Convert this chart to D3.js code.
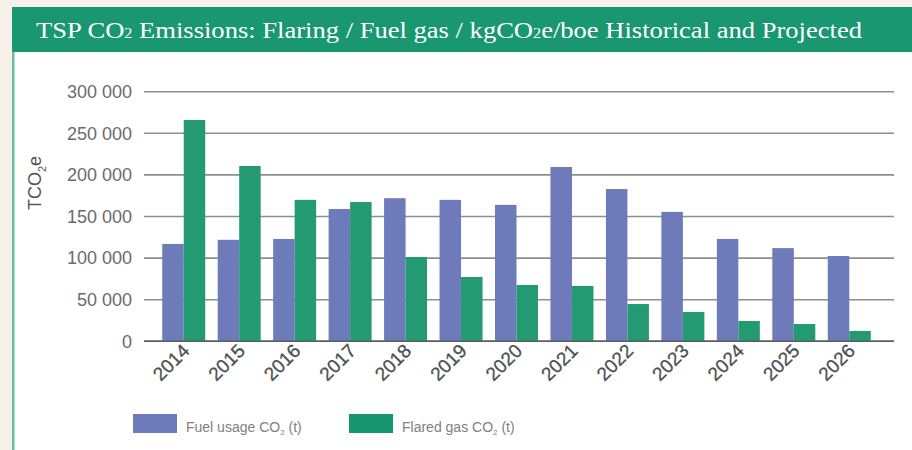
<!DOCTYPE html>
<html>
<head>
<meta charset="utf-8">
<script src="https://cdn.jsdelivr.net/npm/d3@7"></script>
<style>
  html, body { margin: 0; padding: 0; background: #f8f0ea; }
  svg { display: block; }
</style>
</head>
<body>
<div id="chart"></div>
<script>
// data
var years = ["2014","2015","2016","2017","2018","2019","2020","2021","2022","2023","2024","2025","2026"];
var fuelUsage = [117000,122000,123000,159000,172000,170000,164000,209500,183000,155500,123000,112000,102500];
var flaredGas = [266000,210700,170000,167400,101300,77300,67700,66500,44800,35200,24400,20800,12400];
var yTicks = [0,50000,100000,150000,200000,250000,300000];
var seriesNames = ["Fuel usage CO", "Flared gas CO"];
var colores = ["#6d7bbb", "#249a72"];

var W = 912, H = 450;
var svg = d3.select("#chart").append("svg")
  .attr("width", W).attr("height", H);

// panel + title bar
svg.append("rect").attr("x", 12).attr("y", 7).attr("width", W - 12).attr("height", H - 7).attr("fill", "#fff");
svg.append("rect").attr("x", 12).attr("y", 52).attr("width", 2.5).attr("height", H - 52).attr("fill", "#6cbf9c");
svg.append("rect").attr("x", 12).attr("y", 7).attr("width", W - 12).attr("height", 45).attr("fill", "#189770");
var tt = svg.append("text")
  .attr("x", 36).attr("y", 38)
  .attr("fill", "#fff")
  .attr("font-family", "'Liberation Serif', 'DejaVu Serif', serif")
  .attr("font-size", 23)
  .attr("textLength", 826).attr("lengthAdjust", "spacingAndGlyphs");
// subscripts done by hand so they sit on the baseline, small
var tituloPartes = [["TSP CO",0],["2",1],[" Emissions: Flaring / Fuel gas / kgCO",0],["2",1],["e/boe Historical and Projected",0]];
tituloPartes.forEach(function(p){
  var s = tt.append("tspan").text(p[0]);
  if (p[1]) s.attr("font-size", 14);
});

// scales
var x = d3.scaleBand().domain(years).range([156, 877]).paddingInner(0.225).paddingOuter(0.1125);
var xs = d3.scaleBand().domain([0, 1]).range([0, x.bandwidth()]);
var y = d3.scaleLinear().domain([0, 300000]).range([341.3, 91.7]);
var fmt = d3.formatLocale({decimal: ".", thousands: " ", grouping: [3], currency: ["", ""]}).format(",");

// gridlines
var grid = svg.append("g");
grid.selectAll("line").data(yTicks).enter().append("line")
  .attr("x1", 144).attr("x2", 894)
  .attr("y1", function(d){ return y(d); })
  .attr("y2", function(d){ return y(d); })
  .attr("stroke", function(d){ return d === 0 ? "#5a5f5e" : "#8c8f8e"; })
  .attr("stroke-width", 1.6);

// y labels
var yAxis = d3.axisLeft(y).tickValues(yTicks).tickFormat(fmt).tickSize(0).tickPadding(0);
var gy = svg.append("g").attr("transform", "translate(132,0)").call(yAxis);
gy.select(".domain").remove();
gy.selectAll("text")
  .attr("font-family", "'Liberation Sans', Arial, sans-serif")
  .attr("font-size", 18).attr("fill", "#6b6b6b");

// y title
var yt = svg.append("text")
  .attr("transform", "translate(41,183) rotate(-90)")
  .attr("text-anchor", "middle")
  .attr("font-family", "'Liberation Sans', Arial, sans-serif")
  .attr("font-size", 18).attr("fill", "#555");
yt.append("tspan").text("TCO");
yt.append("tspan").attr("font-size", 11).attr("dy", 5).text("2");
yt.append("tspan").attr("dy", -5).text("e");

// bars
var series = [fuelUsage, flaredGas];
var grupos = svg.selectAll(".grupo").data(years).enter().append("g")
  .attr("class", "grupo")
  .attr("transform", function(d){ return "translate(" + x(d) + ",0)"; });
grupos.selectAll("rect").data(function(d, i){ return series.map(function(s, k){ return {k: k, v: s[i]}; }); })
  .enter().append("rect")
  .attr("x", function(d){ return xs(d.k); })
  .attr("width", xs.bandwidth())
  .attr("y", function(d){ return y(d.v); })
  .attr("height", function(d){ return y(0) - y(d.v); })
  .attr("fill", function(d){ return colores[d.k]; });

// redraw zero line over bars
svg.append("line").attr("x1", 144).attr("x2", 894).attr("y1", y(0)).attr("y2", y(0))
  .attr("stroke", "#5a5f5e").attr("stroke-width", 1.6);

// x labels
svg.selectAll(".xlab").data(years).enter().append("text")
  .attr("class", "xlab")
  .attr("text-anchor", "end")
  .attr("transform", function(d){ return "translate(" + (x(d) + x.bandwidth() / 2 + 7) + ",352) rotate(-45)"; })
  .attr("font-family", "'Liberation Sans', Arial, sans-serif")
  .attr("font-size", 19).attr("fill", "#4a5150")
  .attr("stroke", "#4a5150").attr("stroke-width", 0.3)
  .text(function(d){ return d; });

// legend
var legX = [133, 349];
var leg = svg.selectAll(".leg").data(seriesNames).enter().append("g")
  .attr("class", "leg")
  .attr("transform", function(d, i){ return "translate(" + legX[i] + ",414)"; });
leg.append("rect").attr("width", 44).attr("height", 19)
  .attr("fill", function(d, i){ return i === 0 ? colores[0] : "#18966e"; });
var lt = leg.append("text").attr("x", 53).attr("y", 18)
  .attr("font-family", "'Liberation Sans', Arial, sans-serif")
  .attr("font-size", 14).attr("fill", "#808080");
lt.append("tspan").text(function(d){ return d; });
lt.append("tspan").attr("font-size", 8).attr("dy", 3).text("2");
lt.append("tspan").attr("dy", -3).text(" (t)");
</script>
</body>
</html>
